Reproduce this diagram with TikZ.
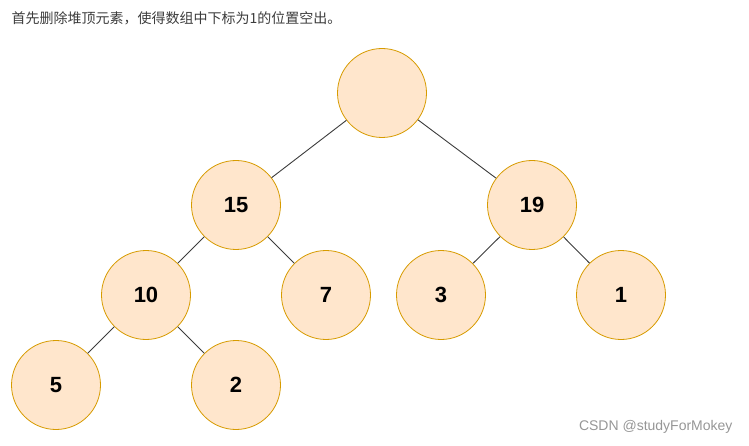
\documentclass[tikz,border=0pt]{standalone}
\usepackage{fontspec}
\setmainfont{Liberation Sans}
\newfontfamily\cjk{Noto Sans CJK SC}
\begin{document}
\begin{tikzpicture}[x=1pt,y=-1pt,
  hnode/.style={circle,draw={rgb,255:red,215;green,155;blue,0},fill={rgb,255:red,255;green,230;blue,204},minimum size=89pt,inner sep=0pt,line width=0.8pt,font=\fontsize{22}{26}\selectfont\bfseries},
  edge/.style={draw={rgb,255:red,60;green,60;blue,60},line width=0.9pt}]
\useasboundingbox (0,0) rectangle (749,446);
\node[anchor=west,text={rgb,255:red,60;green,60;blue,60},font=\cjk\fontsize{14}{16}\selectfont] (title) at (8,18) {首先删除堆顶元素，使得数组中下标为1的位置空出。};
\node[hnode] (r) at (382,93) {};
\node[hnode] (a) at (236,205) {15};
\node[hnode] (b) at (532,205) {19};
\node[hnode] (c) at (146,295) {10};
\node[hnode] (d) at (326,295) {7};
\node[hnode] (e) at (441,295) {3};
\node[hnode] (f) at (621,295) {1};
\node[hnode] (g) at (56,385) {5};
\node[hnode] (h) at (236,385) {2};
\draw[edge] (r)--(a); \draw[edge] (r)--(b);
\draw[edge] (a)--(c); \draw[edge] (a)--(d);
\draw[edge] (b)--(e); \draw[edge] (b)--(f);
\draw[edge] (c)--(g); \draw[edge] (c)--(h);
\node[anchor=east,text={rgb,255:red,150;green,150;blue,150},font=\fontsize{14}{16}\selectfont] (wm) at (736,427) {CSDN @studyForMokey};
\end{tikzpicture}
\end{document}
